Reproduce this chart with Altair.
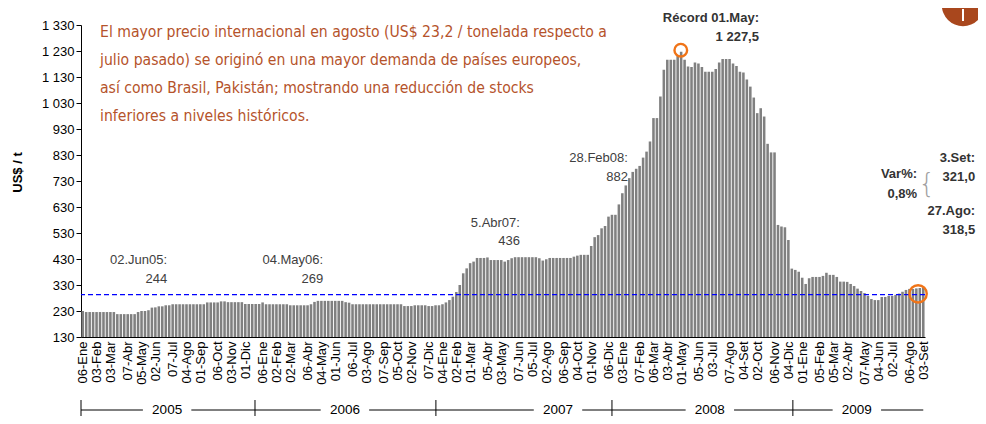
import json
import pandas as pd
import altair as alt

# ---------------- data (weekly export price, US$/t, Thursdays) ----------------
start_date = "2005-01-06"

price_2005 = [230, 226, 226, 226, 226, 226, 226, 226, 226, 226,
              218, 218, 218, 218, 218, 218, 226, 230, 230, 233,
              243, 244, 248, 248, 252, 252, 256, 256, 256, 256,
              256, 256, 256, 256, 256, 256, 263, 263, 263, 263,
              267, 267, 264, 264, 264, 264, 264, 257, 257, 257,
              257, 257]
price_2006 = [263, 256, 256, 256, 256, 256, 256, 256, 252, 252,
              252, 252, 252, 252, 256, 265, 269, 269, 269, 269,
              269, 269, 269, 269, 264, 262, 256, 256, 256, 256,
              256, 256, 256, 256, 256, 256, 256, 256, 256, 256,
              256, 249, 249, 249, 252, 252, 252, 252, 249, 249,
              252, 252]
price_2007 = [256, 263, 272, 285, 303, 330, 375, 394, 414, 420,
              434, 434, 434, 436, 426, 426, 426, 426, 420, 426,
              433, 437, 437, 437, 437, 437, 437, 437, 433, 424,
              429, 434, 434, 434, 434, 434, 434, 434, 439, 443,
              446, 446, 446, 480, 514, 522, 548, 557, 593, 600,
              600, 640]
price_2008 = [683, 713, 741, 765, 777, 788, 820, 843, 882, 972,
              972, 1055, 1158, 1196, 1196, 1196, 1214, 1227.5, 1196, 1170,
              1168, 1186, 1182, 1168, 1150, 1150, 1150, 1161, 1186, 1199,
              1199, 1199, 1182, 1172, 1150, 1147, 1120, 1093, 1051, 991,
              1010, 978, 873, 840, 840, 561, 555, 552, 503, 393,
              388, 381]
price_2009 = [358, 334, 356, 361, 361, 361, 365, 377, 369, 369,
              361, 343, 343, 342, 334, 326, 316, 307, 299, 288,
              276, 272, 272, 284, 284, 288, 288, 292, 297, 304,
              311, 315, 315, 317, 318.5, 321]

month_labels = [
    "06-Ene", "03-Feb", "03-Mar", "07-Abr", "05-May", "02-Jun", "07-Jul", "04-Ago", "01-Sep", "06-Oct", "03-Nov", "01-Dic",
    "06-Ene", "02-Feb", "02-Mar", "06-Abr", "04-May", "01-Jun", "06-Jul", "03-Ago", "07-Sep", "05-Oct", "02-Nov", "07-Dic",
    "04-Ene", "02-Feb", "01-Mar", "05-Abr", "03-May", "07-Jun", "05-Jul", "02-Ago", "06-Sep", "04-Oct", "01-Nov", "06-Dic",
    "03-Ene", "07-Feb", "06-Mar", "03-Abr", "01-May", "05-Jun", "03-Jul", "07-Ago", "04-Set", "02-Oct", "06-Nov", "04-Dic",
    "01-Ene", "05-Feb", "05-Mar", "02-Abr", "07-May", "04-Jun", "02-Jul", "06-Ago", "03-Set",
]

y_ticks = [130, 230, 330, 430, 530, 630, 730, 830, 930, 1030, 1130, 1230, 1330]
ref_level = 293

years = ["2005", "2006", "2007", "2008", "2009"]
year_bounds = [-0.5, 49.8, 102.1, 153.0, 205.3, 243.0]
year_label_pos = [24.4, 75.8, 137.4, 181.3, 223.8]

note_lines = [
    "El mayor precio internacional en agosto (US$ 23,2 / tonelada respecto a",
    "julio pasado) se originó en una mayor demanda de países europeos,",
    "así como Brasil, Pakistán; mostrando una reducción de stocks",
    "inferiores a niveles históricos.",
]

ann_text = ["02.Jun05:", "244", "04.May06:", "269", "5.Abr07:", "436", "28.Feb08:", "882"]
ann_x = [24.4, 24.4, 69.5, 69.5, 126.4, 126.4, 157.6, 157.6]
ann_y = [426, 353, 426, 353, 569, 500, 820, 747]

bold_text = ["Récord 01.May:", "1 227,5", "3.Set:", "321,0", "Var%:", "0,8%", "27.Ago:", "318,5"]
bold_x = [195.5, 195.5, 258.0, 258.0, 241.2, 241.2, 258.0, 258.0]
bold_y = [1358, 1285, 819, 746, 757, 681, 615, 542]

circle_x = [172.9, 241.5]
circle_y = [1233, 296]
circle_size = [160, 300]

# ---------------- tables ----------------
prices = price_2005 + price_2006 + price_2007 + price_2008 + price_2009
weeks = pd.date_range(start_date, periods=len(prices), freq="7D")
df = pd.DataFrame({"idx": range(len(prices)), "price": prices})
df["x0"] = df["idx"] - 0.37
df["x1"] = df["idx"] + 0.37

tick_idx = [i for i, d in enumerate(weeks) if d.day <= 7]
label_expr = f"{json.dumps(month_labels)}[indexof({json.dumps(tick_idx)}, datum.value)]"

seg_rows = []
for i, y in enumerate(years):
    seg_rows.append({"a": year_bounds[i], "b": year_label_pos[i] - 7})
    seg_rows.append({"a": year_label_pos[i] + 7, "b": year_bounds[i + 1]})
seg_df = pd.DataFrame(seg_rows)
sep_df = pd.DataFrame({"s": year_bounds[:-1]})
year_df = pd.DataFrame({"year": years, "pos": year_label_pos})

ann_df = pd.DataFrame({"t": ann_text, "x": ann_x, "y": ann_y})
bold_df = pd.DataFrame({"t": bold_text, "x": bold_x, "y": bold_y})
circ_df = pd.DataFrame({"x": circle_x, "y": circle_y, "s": circle_size})
note_df = pd.DataFrame({"t": ["\n".join(note_lines)], "x": [5.0], "y": [1330]})

FONT = "Liberation Sans"
W, H = 844, 312

xscale = alt.Scale(domain=[-0.5, 243.5], nice=False, zero=False)
yscale = alt.Scale(domain=[130, 1330], nice=False, zero=False)

X_AXIS = alt.Axis(values=tick_idx, labelExpr=label_expr, labelAngle=270,
                  labelAlign="right", labelBaseline="middle", ticks=False,
                  grid=False, domainColor="#000000", labelFontSize=13,
                  labelColor="#000000", labelPadding=4, labelFont=FONT,
                  labelOverlap=False, labelFlush=False, title=None)
Y_AXIS = alt.Axis(values=y_ticks, labelExpr="replace(format(datum.value, ','), ',', ' ')",
                  grid=False, domainColor="#000000", tickColor="#000000", tickSize=5,
                  labelFontSize=13, labelColor="#000000", labelFont=FONT,
                  labelOverlap=False, labelFlush=False, title="US$ / t",
                  titleFont=FONT, titleFontSize=13, titleFontWeight="bold",
                  titleColor="#000000", titleX=-64, titleY=147, titleAngle=270,
                  titleAlign="center", titleBaseline="middle")


def xq(field):
    return alt.X(field, scale=xscale, axis=X_AXIS, title=None)


def yq(field):
    return alt.Y(field, scale=yscale, axis=Y_AXIS, title="US$ / t")


bars = alt.Chart(df).mark_bar(color="#808080").encode(
    x=xq("x0:Q"), x2="x1:Q", y=yq("price:Q"), y2=alt.datum(130),
)

ref_line = alt.Chart(pd.DataFrame({"v": [ref_level]})).mark_rule(
    color="#0000FF", strokeDash=[5, 3], strokeWidth=1.2
).encode(y=yq("v:Q"))

note = alt.Chart(note_df).mark_text(
    align="left", baseline="top", font="DejaVu Sans Condensed",
    fontSize=15.6, lineHeight=28, lineBreak="\n", color="#B5532B"
).encode(x=xq("x:Q"), y=yq("y:Q"), text="t:N")

ann = alt.Chart(ann_df).mark_text(
    align="right", baseline="middle", font=FONT, fontSize=13, color="#404040"
).encode(x=xq("x:Q"), y=yq("y:Q"), text="t:N")

bold_ann = alt.Chart(bold_df).mark_text(
    align="right", baseline="middle", font=FONT, fontSize=13, fontWeight="bold", color="#333333"
).encode(x=xq("x:Q"), y=yq("y:Q"), text="t:N")

brace = alt.Chart(pd.DataFrame({"t": ["{"], "x": [244.0], "y": [720]})).mark_text(
    align="center", baseline="middle", font="DejaVu Sans", fontSize=26, fontWeight=100, color="#A0A0A0"
).encode(x=xq("x:Q"), y=yq("y:Q"), text="t:N")

circles = alt.Chart(circ_df).mark_point(
    shape="circle", filled=False, color="#F07418", strokeWidth=2.4, opacity=1
).encode(x=xq("x:Q"), y=yq("y:Q"), size=alt.Size("s:Q", scale=None, legend=None))

segs = alt.Chart(seg_df).mark_rule(color="#000000", strokeWidth=1).encode(
    x=xq("a:Q"), x2="b:Q", y=alt.value(385)
)
seps = alt.Chart(sep_df).mark_rule(color="#000000", strokeWidth=1).encode(
    x=xq("s:Q"), y=alt.value(375), y2=alt.value(400)
)
year_txt = alt.Chart(year_df).mark_text(
    align="center", baseline="middle", font=FONT, fontSize=13.5, color="#000000"
).encode(x=xq("pos:Q"), y=alt.value(385), text="year:N")

logo = alt.Chart(pd.DataFrame({"k": [0]})).mark_point(
    shape="circle", filled=True, color="#A9471D", opacity=1
).encode(x=alt.value(882), y=alt.value(-20), size=alt.value(1800))
logo_bar = alt.Chart(pd.DataFrame({"k": [0]})).mark_rule(color="#FFFFFF", strokeWidth=2).encode(
    x=alt.value(882), y=alt.value(-16), y2=alt.value(-4)
)

chart = alt.layer(
    bars, ref_line, note, ann, bold_ann, brace, circles, segs, seps, year_txt, logo, logo_bar
).properties(
    width=W, height=H,
    autosize=alt.AutoSizeParams(type="none"),
    padding={"left": 73, "top": 17, "right": 53, "bottom": 79},
).configure_view(stroke=None).configure_axis(labelOverlap=False)

chart.save("out.html", embed_options={"renderer": "svg", "actions": False})
